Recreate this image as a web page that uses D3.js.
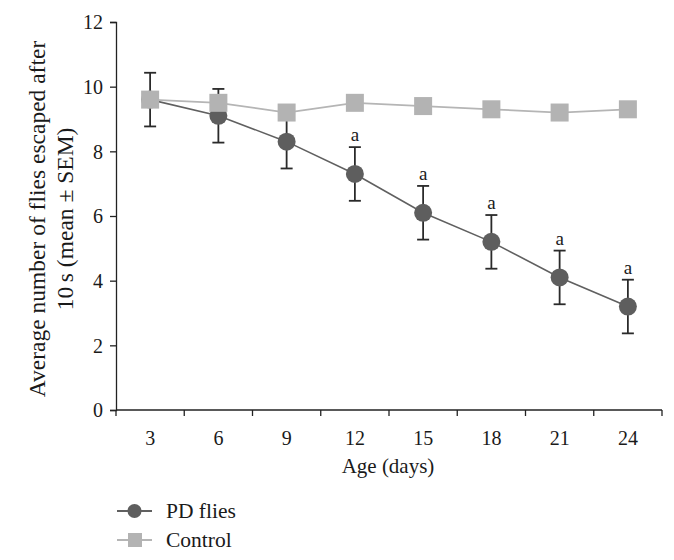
<!DOCTYPE html>
<html><head><meta charset="utf-8">
<script src="https://cdn.jsdelivr.net/npm/d3@7"></script>
<style>body{margin:0;background:#fff}svg{display:block}text{font-family:"Liberation Serif","DejaVu Serif",serif;fill:#1a1a1a}</style>
</head><body>
<svg id="c" width="674" height="560"></svg>
<script>
const ages = ["3","6","9","12","15","18","21","24"];
const pdMean = [9.6, 9.1, 8.3, 7.3, 6.1, 5.2, 4.1, 3.2];
const pdSem = [0.83, 0.83, 0.83, 0.83, 0.83, 0.83, 0.83, 0.83];
const pdSig = ["", "", "", "a", "a", "a", "a", "a"];
const ctrlMean = [9.6, 9.5, 9.2, 9.5, 9.4, 9.3, 9.2, 9.3];
const yTicks = [0, 2, 4, 6, 8, 10, 12];
const seriesNames = ["PD flies", "Control"];

const svg = d3.select("#c");
const L = 116, R = 662, T = 22, B = 410;
const x = d3.scaleBand().domain(ages).range([L, R]);
const y = d3.scaleLinear().domain([0, 12]).range([B, T]);
const cx = d => x(d) + x.bandwidth() / 2;

// axes
const yAx = svg.append("g").attr("transform", `translate(${L},0)`)
  .call(d3.axisLeft(y).tickValues(yTicks).tickSize(6).tickPadding(7));
const xAx = svg.append("g").attr("transform", `translate(0,${B})`)
  .call(d3.axisBottom(x).tickSize(0).tickPadding(21));
[yAx, xAx].forEach(g => {
  g.select(".domain").attr("stroke", "#222").attr("stroke-width", 1.3);
  g.selectAll(".tick line").attr("stroke", "#222").attr("stroke-width", 1.3);
  g.selectAll("text").style("font-size", "20px").attr("fill", "#1a1a1a");
});
yAx.selectAll(".tick text").attr("dy", "0.34em");
xAx.select(".domain").attr("d", `M${L},0H${R}`);
// x tick marks at band boundaries
const bounds = ages.map(a => x(a)).concat([R]);
xAx.selectAll(".bnd").data(bounds).join("line").attr("class", "bnd")
  .attr("x1", d => d).attr("x2", d => d).attr("y1", 0).attr("y2", 6)
  .attr("stroke", "#222").attr("stroke-width", 1.3);

// titles
svg.append("text").attr("x", (L + R) / 2 - 1).attr("y", 473).attr("text-anchor", "middle")
  .style("font-size", "21px").text("Age (days)");
const yt = svg.append("text").attr("transform", `translate(0,${(T + B) / 2 + 3}) rotate(-90)`)
  .attr("text-anchor", "middle").style("font-size", "23.5px");
yt.append("tspan").attr("x", 0).attr("y", 45).text("Average number of flies escaped after");
yt.append("tspan").attr("x", 0).attr("y", 73).text("10\u2009s (mean \u00b1 SEM)");

// PD line
const line = d3.line().x((d, i) => cx(ages[i])).y(d => y(d));
svg.append("path").datum(pdMean).attr("d", line).attr("fill", "none")
  .attr("stroke", "#606060").attr("stroke-width", 1.6);
// error bars
const eb = svg.append("g").attr("stroke", "#2a2a2a").attr("stroke-width", 1.8);
pdMean.forEach((m, i) => {
  const xc = cx(ages[i]);
  eb.append("line").attr("x1", xc).attr("x2", xc).attr("y1", y(m + pdSem[i])).attr("y2", y(m - pdSem[i]));
  [m + pdSem[i], m - pdSem[i]].forEach(v => eb.append("line")
    .attr("x1", xc - 6).attr("x2", xc + 6).attr("y1", y(v)).attr("y2", y(v)));
});
svg.append("g").selectAll("circle").data(pdMean).join("circle")
  .attr("cx", (d, i) => cx(ages[i])).attr("cy", d => y(d)).attr("r", 9).attr("fill", "#5e5e5e");
svg.append("g").selectAll("text").data(pdMean).join("text")
  .attr("x", (d, i) => cx(ages[i])).attr("y", (d, i) => y(d + pdSem[i]) - 6)
  .attr("text-anchor", "middle").style("font-size", "19px").text((d, i) => pdSig[i]);

// Control
svg.append("path").datum(ctrlMean).attr("d", line).attr("fill", "none")
  .attr("stroke", "#b5b5b5").attr("stroke-width", 1.8);
svg.append("g").selectAll("rect").data(ctrlMean).join("rect")
  .attr("x", (d, i) => cx(ages[i]) - 9).attr("y", d => y(d) - 9).attr("width", 18).attr("height", 18)
  .attr("fill", "#b3b3b3");

// legend
const lg = svg.append("g");
[0, 1].forEach(k => {
  const ly = 511 + k * 29;
  lg.append("line").attr("x1", 117).attr("x2", 152).attr("y1", ly).attr("y2", ly)
    .attr("stroke", k ? "#b5b5b5" : "#606060").attr("stroke-width", 1.8);
  if (k === 0) lg.append("circle").attr("cx", 134.5).attr("cy", ly).attr("r", 7).attr("fill", "#5e5e5e");
  else lg.append("rect").attr("x", 128).attr("y", ly - 7).attr("width", 14).attr("height", 14).attr("fill", "#b3b3b3");
  lg.append("text").attr("x", 166).attr("y", ly + 7).style("font-size", "21.5px").text(seriesNames[k]);
});
</script>
</body></html>
